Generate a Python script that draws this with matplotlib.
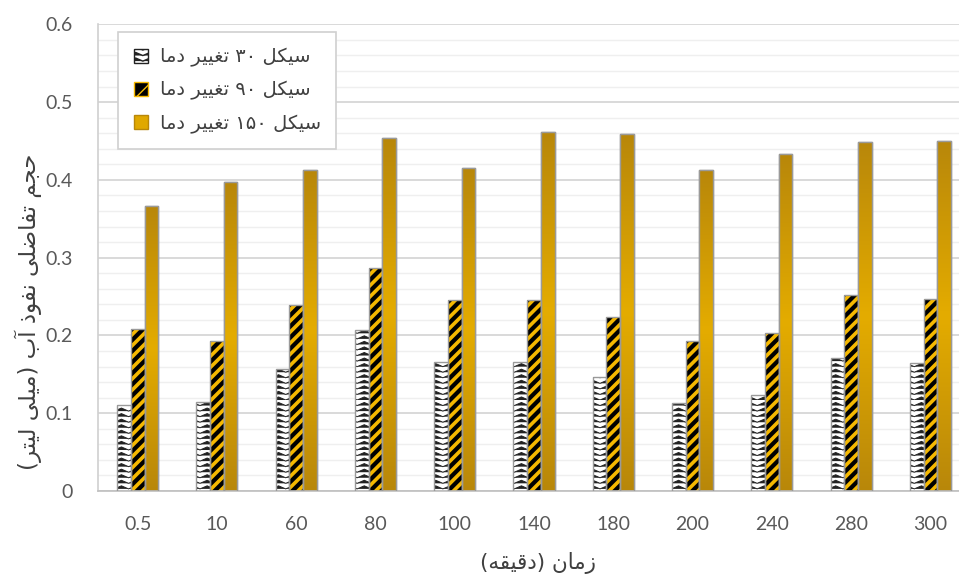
import warnings
import numpy as np
import matplotlib
matplotlib.use('Agg')
import matplotlib.pyplot as plt
from matplotlib import hatch as mhatch
from matplotlib.path import Path
from matplotlib.patches import Patch
from matplotlib.colors import LinearSegmentedColormap

warnings.filterwarnings('ignore')

# data
times = ['0.5', '10', '60', '80', '100', '140', '180', '200', '240', '280', '300']
cycle30 = [0.111, 0.114, 0.157, 0.207, 0.166, 0.166, 0.147, 0.113, 0.124, 0.171, 0.165]
cycle90 = [0.208, 0.193, 0.239, 0.287, 0.245, 0.245, 0.224, 0.193, 0.203, 0.252, 0.247]
cycle150 = [0.367, 0.397, 0.413, 0.454, 0.415, 0.461, 0.459, 0.413, 0.433, 0.449, 0.450]
series_names = ['سیکل ۳۰ تغییر دما', 'سیکل ۹۰ تغییر دما', 'سیکل ۱۵۰ تغییر دما']
x_title = 'زمان (دقیقه)'
y_title = 'حجم تفاضلی نفوذ آب (میلی لیتر)'
y_ticks = [0, 0.1, 0.2, 0.3, 0.4, 0.5, 0.6]
y_ticklabels = ['0', '0.1', '0.2', '0.3', '0.4', '0.5', '0.6']

# presentation forms (isolated, final, initial, medial), no shaping engine here
AR = {
    'ا': ('\ufe8d', '\ufe8e', None, None),
    'آ': ('\ufe81', '\ufe82', None, None),
    'ب': ('\ufe8f', '\ufe90', '\ufe91', '\ufe92'),
    'ت': ('\ufe95', '\ufe96', '\ufe97', '\ufe98'),
    'ج': ('\ufe9d', '\ufe9e', '\ufe9f', '\ufea0'),
    'ح': ('\ufea1', '\ufea2', '\ufea3', '\ufea4'),
    'د': ('\ufea9', '\ufeaa', None, None),
    'ذ': ('\ufeab', '\ufeac', None, None),
    'ر': ('\ufead', '\ufeae', None, None),
    'ز': ('\ufeaf', '\ufeb0', None, None),
    'س': ('\ufeb1', '\ufeb2', '\ufeb3', '\ufeb4'),
    'ض': ('\ufebd', '\ufebe', '\ufebf', '\ufec0'),
    'غ': ('\ufecd', '\ufece', '\ufecf', '\ufed0'),
    'ف': ('\ufed1', '\ufed2', '\ufed3', '\ufed4'),
    'ق': ('\ufed5', '\ufed6', '\ufed7', '\ufed8'),
    'ک': ('\ufb8e', '\ufb8f', '\ufb90', '\ufb91'),
    'ل': ('\ufedd', '\ufede', '\ufedf', '\ufee0'),
    'م': ('\ufee1', '\ufee2', '\ufee3', '\ufee4'),
    'ن': ('\ufee5', '\ufee6', '\ufee7', '\ufee8'),
    'ه': ('\ufee9', '\ufeea', '\ufeeb', '\ufeec'),
    'و': ('\ufeed', '\ufeee', None, None),
    'ی': ('\ufbfc', '\ufbfd', '\ufbfe', '\ufbff'),
}
DIGITS = '۰۱۲۳۴۵۶۷۸۹0123456789'


def persian(text):
    out = []
    for i, ch in enumerate(text):
        if ch not in AR:
            out.append(ch)
            continue
        prev = text[i - 1] if i > 0 else ''
        nxt = text[i + 1] if i + 1 < len(text) else ''
        iso, fin, ini, med = AR[ch]
        joins_prev = prev in AR and AR[prev][2] is not None
        joins_next = nxt in AR and ini is not None
        if joins_prev and joins_next:
            out.append(med)
        elif joins_prev:
            out.append(fin)
        elif joins_next:
            out.append(ini)
        else:
            out.append(iso)
    vis = out[::-1]
    res, run = [], []
    for ch in vis:
        if ch in DIGITS:
            run.append(ch)
            continue
        res.extend(run[::-1])
        run = []
        res.append({'(': ')', ')': '('}.get(ch, ch))
    res.extend(run[::-1])
    return ''.join(res)


class ChevronHatch(mhatch.HatchPatternBase):
    def __init__(self, hatch, density):
        self.rows = hatch.count('^') * density
        self.cols = 7
        self.num_vertices = self.rows * (2 * self.cols + 1)

    def set_vertices_and_codes(self, vertices, codes):
        k = 0
        step = 1.0 / self.rows
        for r in range(self.rows):
            for j in range(2 * self.cols + 1):
                vertices[k] = j / (2 * self.cols), r * step + (0.55 * step if j % 2 else 0)
                codes[k] = Path.MOVETO if j == 0 else Path.LINETO
                k += 1


mhatch._hatch_types.append(ChevronHatch)

plt.rcParams['font.family'] = ['Lato', 'DejaVu Sans']
fig = plt.figure(figsize=(9.59, 5.74), dpi=100)
ax = fig.add_axes([0.1022, 0.1446, 0.9093, 0.8131])

x = np.arange(len(times))
w = 0.173
edge = '#9a9a9a'

with plt.rc_context({'hatch.linewidth': 0.7}):
    ax.bar(x - w, cycle30, w, color='white', edgecolor='#222222', hatch='^^^', linewidth=0, zorder=2)
ax.bar(x - w, cycle30, w, color='none', edgecolor=edge, linewidth=1, zorder=3)

with plt.rc_context({'hatch.linewidth': 2.6}):
    ax.bar(x, cycle90, w, color='black', edgecolor='#f5b800', hatch='///', linewidth=0, zorder=2)
ax.bar(x, cycle90, w, color='none', edgecolor=edge, linewidth=1, zorder=3)

gold_cmap = LinearSegmentedColormap.from_list('gold', ['#b8870a', '#e4ac00', '#b8870a'])
grad = np.linspace(0, 1, 256).reshape(-1, 1)
bars150 = ax.bar(x + w, cycle150, w, color='#d9a400', edgecolor=edge, linewidth=1, zorder=2)
for b in bars150:
    im = ax.imshow(grad, extent=[b.get_x(), b.get_x() + b.get_width(), 0, b.get_height()],
                   aspect='auto', cmap=gold_cmap, zorder=2.5, origin='lower')
    im.set_clip_path(b)
ax.bar(x + w, cycle150, w, color='none', edgecolor=edge, linewidth=1, zorder=3)

ax.set_xlim(-0.5, len(times) - 0.5)
ax.set_ylim(0, 0.6)
ax.set_xticks(x)
ax.set_xticklabels(times)
ax.set_yticks(y_ticks)
ax.set_yticklabels(y_ticklabels)
ax.set_yticks(np.arange(0, 0.6, 0.02), minor=True)
ax.tick_params(axis='both', length=0, labelsize=14, labelcolor='#595959')
ax.tick_params(axis='x', pad=18)
ax.tick_params(axis='y', pad=18)
ax.tick_params(which='minor', length=0)
ax.grid(axis='y', which='major', color='#d9d9d9', linewidth=1.4)
ax.grid(axis='y', which='minor', color='#efefef', linewidth=1.0)
ax.set_axisbelow(True)
for s in ['top', 'right']:
    ax.spines[s].set_visible(False)
ax.spines['left'].set_color('#d0d0d0')
ax.spines['bottom'].set_color('#bfbfbf')
ax.spines['left'].set_linewidth(1.2)
ax.spines['bottom'].set_linewidth(1.2)

with plt.rc_context({'hatch.linewidth': 0.7}):
    h1 = Patch(facecolor='white', edgecolor='#222222', hatch='^^^')
with plt.rc_context({'hatch.linewidth': 2.2}):
    h2 = Patch(facecolor='black', edgecolor='#f5b800', hatch='//')
h3 = Patch(facecolor='#e0a800', edgecolor='#b8870a')
leg = ax.legend([h1, h2, h3], [persian(s) for s in series_names],
                loc='upper left', bbox_to_anchor=(0.0229, 0.9835), borderaxespad=0,
                frameon=True, fancybox=False, edgecolor='#d0d0d0', framealpha=1,
                prop={'family': 'DejaVu Sans', 'size': 14}, labelcolor='#404040',
                handlelength=0.75, handleheight=0.75, handletextpad=0.6,
                labelspacing=0.7, borderpad=0.8)
leg.get_frame().set_linewidth(1.2)

fig.text(538 / 959, 1 - 563 / 574, persian(x_title), ha='center', va='center',
         fontsize=15.5, color='#404040', family='DejaVu Sans')
fig.text(28 / 959, 1 - 312 / 574, persian(y_title), ha='center', va='center',
         rotation=90, fontsize=16.5, color='#404040', family='DejaVu Sans')

fig.savefig('out.png', dpi=100)
